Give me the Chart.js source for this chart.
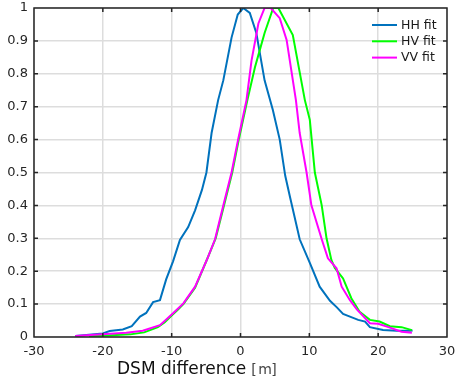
<!DOCTYPE html>
<html>
<head>
<meta charset="utf-8">
<script src="https://cdn.jsdelivr.net/npm/chart.js@4.4.1/dist/chart.umd.min.js"></script>
<style>
  html, body { margin: 0; padding: 0; background: #fff; }
  #wrap { width: 457px; height: 376px; }
</style>
</head>
<body>
<div id="wrap"><canvas id="dsmChart" width="457" height="376"></canvas></div>
<script>
// values (DSM difference in m, normalised fit)
const hhX = [-24, -22.4, -20, -19, -17.1, -15.8, -14.6, -13.7, -12.7, -11.7, -10.8, -9.8, -8.8, -7.6, -6.6, -5.6, -4.95, -4.2, -3.25, -2.5, -1.3, -0.4, 0.4, 1.35, 2.3, 3.5, 4.7, 5.7, 6.5, 7.2, 8.6, 10.1, 11.5, 13.0, 14.0, 14.9, 15.9, 17.1, 18.1, 18.8, 20.7, 22.7, 24.6, 25];
const hhY = [0.003, 0.006, 0.011, 0.018, 0.023, 0.033, 0.062, 0.073, 0.106, 0.112, 0.175, 0.23, 0.295, 0.334, 0.385, 0.447, 0.5, 0.62, 0.72, 0.78, 0.91, 0.98, 1.0, 0.985, 0.924, 0.78, 0.69, 0.6, 0.49, 0.425, 0.297, 0.224, 0.153, 0.11, 0.09, 0.07, 0.062, 0.052, 0.047, 0.03, 0.021, 0.019, 0.019, 0.02];

const hvX = [-22, -20, -18, -16, -14, -12, -11, -10, -9, -8.3, -6.6, -4.9, -3.6, -2.4, -1.2, -0.25, 1.0, 2.1, 2.8, 3.5, 4.75, 5.5, 7.6, 9.35, 10.07, 10.8, 11.8, 12.5, 13.2, 13.7, 14.9, 16.1, 17.3, 18.8, 20.2, 21.7, 23.4, 24.9];
const hvY = [0.002, 0.004, 0.006, 0.008, 0.014, 0.03, 0.045, 0.065, 0.085, 0.1, 0.15, 0.234, 0.3, 0.4, 0.5, 0.6, 0.72, 0.82, 0.872, 0.924, 1.0, 1.0, 0.918, 0.72, 0.66, 0.5, 0.4, 0.3, 0.234, 0.21, 0.178, 0.118, 0.077, 0.052, 0.047, 0.033, 0.03, 0.021];

const vvX = [-24, -19.5, -16.6, -14.2, -11.7, -9.8, -8.3, -6.6, -4.9, -3.7, -2.5, -1.3, -0.35, 0.87, 1.6, 2.6, 3.5, 4.4, 5.7, 6.7, 8.05, 8.6, 9.6, 10.3, 11.8, 12.7, 13.95, 14.7, 15.9, 16.9, 18.8, 20.0, 21.5, 23.4, 24.9];
const vvY = [0.003, 0.009, 0.013, 0.019, 0.036, 0.072, 0.102, 0.153, 0.234, 0.297, 0.4, 0.5, 0.6, 0.72, 0.84, 0.953, 1.0, 1.0, 0.969, 0.903, 0.72, 0.62, 0.5, 0.4, 0.297, 0.239, 0.209, 0.153, 0.112, 0.084, 0.042, 0.04, 0.03, 0.016, 0.013];

const seriesNames = ['HH fit', 'HV fit', 'VV fit'];
const seriesColors = ['#0072BD', '#00FF00', '#FF00FF'];
const xTicks = [-30, -20, -10, 0, 10, 20, 30];

function pts(xs, ys) {
    return xs.map((x, i) => ({ x: x, y: ys[i] }));
}

const frameColor = '#262626';
const gridColor = '#dddddd';
const fontFam = "'DejaVu Sans', sans-serif";

// box, inward ticks, legend and x axis title
const decorations = {
    id: 'decorations',
    afterDatasetsDraw(chart) {
        const ctx = chart.ctx;
        const a = chart.chartArea;
        const xs = chart.scales.x, ys = chart.scales.y;
        ctx.save();
        ctx.strokeStyle = frameColor;
        ctx.lineWidth = 1.5;
        ctx.beginPath();
        xs.ticks.forEach(t => {
            const px = xs.getPixelForValue(t.value);
            if (t.value <= -30 || t.value >= 30) return;
            ctx.moveTo(px, a.bottom); ctx.lineTo(px, a.bottom - 4);
            ctx.moveTo(px, a.top); ctx.lineTo(px, a.top + 4);
        });
        ys.ticks.forEach(t => {
            const py = ys.getPixelForValue(t.value);
            if (t.value <= 0 || t.value >= 1) return;
            ctx.moveTo(a.left, py); ctx.lineTo(a.left + 4, py);
            ctx.moveTo(a.right, py); ctx.lineTo(a.right - 4, py);
        });
        ctx.stroke();
        ctx.strokeRect(a.left, a.top, a.right - a.left, a.bottom - a.top);

        // legend, top right inside the axes
        ctx.font = '12.5px ' + fontFam;
        ctx.textBaseline = 'middle';
        ctx.textAlign = 'left';
        chart.data.datasets.forEach((ds, i) => {
            const y = 25 + i * 16.3;
            ctx.strokeStyle = ds.borderColor;
            ctx.lineWidth = 2;
            ctx.beginPath();
            ctx.moveTo(372, y); ctx.lineTo(397, y);
            ctx.stroke();
            ctx.fillStyle = '#1a1a1a';
            ctx.fillText(ds.label, 401, y + 0.5);
        });

        // x axis title
        ctx.fillStyle = '#111';
        ctx.font = '17px ' + fontFam;
        ctx.textBaseline = 'alphabetic';
        ctx.fillText('DSM difference', 117, 374);
        const w = ctx.measureText('DSM difference').width;
        ctx.fillStyle = '#444';
        ctx.font = '14px ' + fontFam;
        ctx.fillText('[', 117 + w + 5, 374);
        ctx.fillText('m', 117 + w + 12, 374);
        ctx.fillText(']', 117 + w + 25, 374);
        ctx.restore();
    }
};

const ctx = document.getElementById('dsmChart').getContext('2d');

const data = {
    datasets: [
        { label: seriesNames[0], data: pts(hhX, hhY), borderColor: seriesColors[0], order: 3 },
        { label: seriesNames[1], data: pts(hvX, hvY), borderColor: seriesColors[1], order: 2 },
        { label: seriesNames[2], data: pts(vvX, vvY), borderColor: seriesColors[2], order: 1 }
    ]
};
data.datasets.forEach(ds => {
    ds.borderWidth = 2;
    ds.pointRadius = 0;
    ds.tension = 0;
    ds.fill = false;
});

const myChart = new Chart(ctx, {
    type: 'line',
    data: data,
    plugins: [decorations],
    options: {
        responsive: false,
        animation: false,
        layout: { padding: { top: 8, right: 10, left: 0, bottom: 0 } },
        plugins: {
            legend: { display: false },
            tooltip: { enabled: false }
        },
        scales: {
            x: {
                type: 'linear',
                min: -30,
                max: 30,
                afterBuildTicks: scale => { scale.ticks = xTicks.map(v => ({ value: v })); },
                afterFit: scale => {
                    scale.height = 39;
                    scale.paddingLeft = 0;
                    scale.paddingRight = 0;
                },
                ticks: {
                    padding: 7,
                    color: frameColor,
                    font: { family: fontFam, size: 13 }
                },
                grid: { color: gridColor, lineWidth: 1.5, drawTicks: false },
                border: { display: false }
            },
            y: {
                min: 0,
                max: 1,
                afterFit: scale => {
                    scale.width = 34;
                    scale.paddingTop = 0;
                    scale.paddingBottom = 0;
                },
                ticks: {
                    stepSize: 0.1,
                    padding: 6,
                    color: frameColor,
                    font: { family: fontFam, size: 13 },
                    callback: v => String(Number(v.toFixed(1)))
                },
                grid: { color: gridColor, lineWidth: 1.5, drawTicks: false },
                border: { display: false }
            }
        }
    }
});
</script>
</body>
</html>
